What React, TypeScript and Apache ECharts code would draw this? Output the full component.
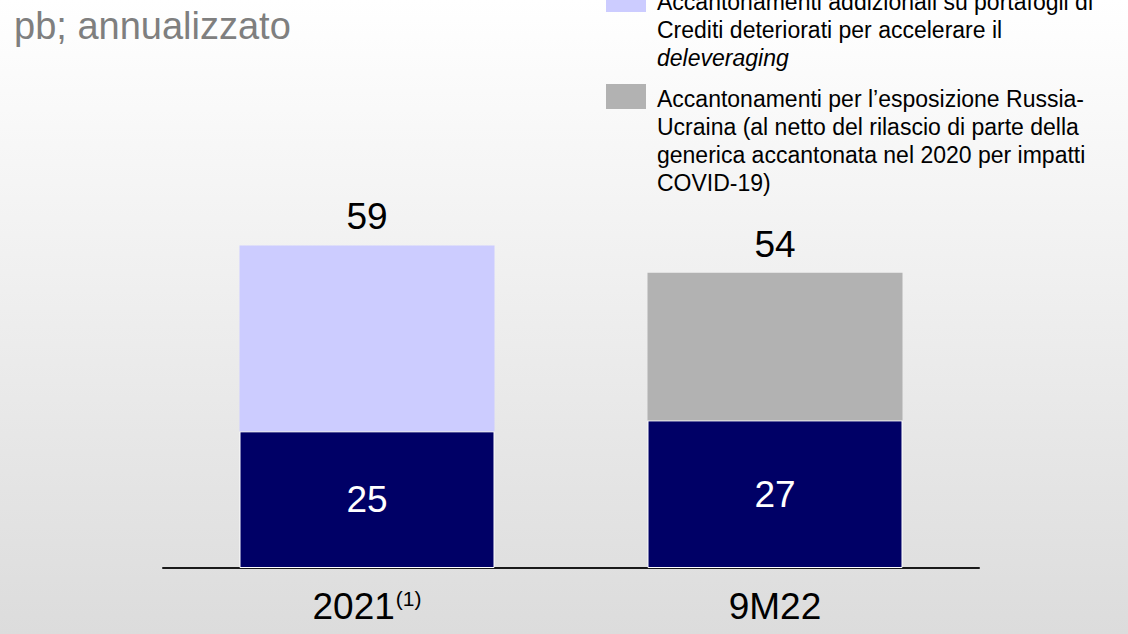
import React, { useEffect, useRef } from "react";
import * as echarts from "echarts";

const titleText = "pb; annualizzato";
const categories = ["2021", "9M22"];
const footnotes = ["(1)", ""];
const baseValues = [25, 27];
const nplValues: (number | null)[] = [34, null];
const russiaValues: (number | null)[] = [null, 27];
const legendNpl = ["Accantonamenti addizionali su portafogli di", "Crediti deteriorati per accelerare il"];
const legendNplItalic = "deleveraging";
const legendRussia = [
  "Accantonamenti per l\u2019esposizione Russia-",
  "Ucraina (al netto del rilascio di parte della",
  "generica accantonata nel 2020 per impatti",
  "COVID-19)",
];

const FONT = "'Liberation Sans', Arial, Helvetica, sans-serif";

export default function App() {
  const ref = useRef<HTMLDivElement>(null);
  useEffect(() => {
    if (!ref.current) return;
    const chart = echarts.init(ref.current, undefined, { renderer: "svg" });
    const totals = baseValues.map((b, i) => b + (nplValues[i] ?? 0) + (russiaValues[i] ?? 0));
    const totalLabel = {
      show: true,
      position: "top" as const,
      distance: 10,
      color: "#000",
      fontSize: 37,
      fontFamily: FONT,
      formatter: (p: any) => String(totals[p.dataIndex]),
    };
    chart.setOption({
      animation: false,
      backgroundColor: "transparent",
      title: {
        text: titleText,
        left: 14,
        top: 7,
        padding: 0,
        textStyle: { fontSize: 38, fontWeight: "normal", color: "#7f7f7f", fontFamily: FONT },
      },
      grid: { left: 163, right: 149, top: 240, bottom: 66, containLabel: false },
      xAxis: {
        type: "category",
        data: categories,
        axisLine: { show: true, lineStyle: { color: "#1a1a1a", width: 2 } },
        axisTick: { show: false },
        axisLabel: {
          margin: 20,
          formatter: (v: string, i: number) =>
            footnotes[i] ? `{a|${v}}{s|${footnotes[i]}}` : `{a|${v}}`,
          rich: {
            a: { fontSize: 37, color: "#000", fontFamily: FONT },
            s: { fontSize: 21, color: "#000", fontFamily: FONT, verticalAlign: "top", padding: [0, 0, 16, 1] },
          },
        },
      },
      yAxis: { type: "value", min: 0, max: 60, show: false, splitLine: { show: false } },
      series: [
        {
          name: "base",
          type: "bar",
          stack: "total",
          barWidth: "62.5%",
          data: baseValues,
          itemStyle: { color: "#000066", borderColor: "#ffffff", borderWidth: 1 },
          label: { show: true, position: "inside", color: "#fff", fontSize: 37, fontFamily: FONT },
        },
        {
          name: "npl",
          type: "bar",
          stack: "total",
          data: nplValues.map((v) => (v == null ? "-" : v)),
          itemStyle: { color: "#ccccff" },
          label: totalLabel,
        },
        {
          name: "russia",
          type: "bar",
          stack: "total",
          data: russiaValues.map((v) => (v == null ? "-" : v)),
          itemStyle: { color: "#b2b2b2" },
          label: totalLabel,
        },
      ],
      graphic: [
        { type: "rect", left: 606, top: -13, shape: { width: 40, height: 25 }, style: { fill: "#ccccff" } },
        {
          type: "text",
          x: 657,
          y: -12,
          style: {
            text: legendNpl.map((l) => `{n|${l}}`).join("\n") + `\n{i|${legendNplItalic}}`,
            rich: {
              n: { fontSize: 23, lineHeight: 28, fontFamily: FONT, fill: "#000" },
              i: { fontSize: 23, lineHeight: 28, fontFamily: FONT, fill: "#000", fontStyle: "italic" },
            },
            fontSize: 23,
            lineHeight: 28,
            fontFamily: FONT,
            fill: "#000",
          },
        },
        { type: "rect", left: 606, top: 84, shape: { width: 40, height: 25 }, style: { fill: "#b2b2b2" } },
        {
          type: "text",
          x: 657,
          y: 85,
          style: {
            text: legendRussia.join("\n"),
            fontSize: 23,
            lineHeight: 28,
            fontFamily: FONT,
            fill: "#000",
          },
        },
      ],
    });
    return () => chart.dispose();
  }, []);
  return (
    <div
      ref={ref}
      style={{
        position: "fixed",
        left: 0,
        top: 0,
        width: 1128,
        height: 634,
        background: "linear-gradient(to bottom, #ffffff 0%, #dcdcdc 100%)",
      }}
    />
  );
}
